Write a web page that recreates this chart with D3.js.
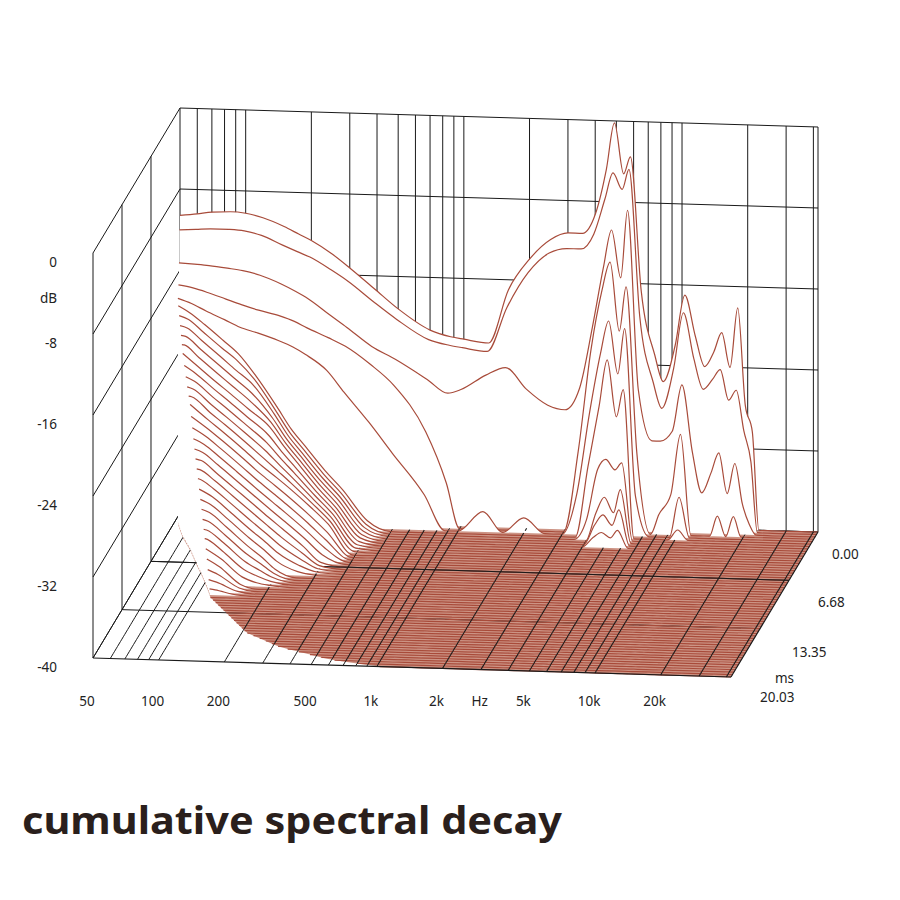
<!DOCTYPE html>
<html><head><meta charset="utf-8">
<script src="https://cdn.jsdelivr.net/npm/d3@7"></script>
<style>body{margin:0;background:#fff}</style>
</head><body>
<svg id="c" width="900" height="900"></svg>
<script>
// ---------------- data ----------------
const freqNodes = [50,60,70,85,100,120,150,175,200,250,300,390,500,700,870,1000,1300,1600,2000,2500,3000,3500,4000,4500,4900,5400,5800,6500,7500,8200,9300,10300,11500,12700,14000,15200,16600,18000,19500,21000,22500,42000];
const sliceTimes = [0,0.334,0.668,1.0,1.335,1.669,2.003,2.337,3.338,5.008,6.677,8.346,10.015,11.35,20.03];
const lv_0000 = [-10.6,-10.4,-10.2,-10.1,-10.2,-10.6,-11.4,-12.1,-12.7,-14,-15.3,-17.3,-19.2,-21.2,-21.8,-22,-22.3,-17,-13.9,-11.9,-11.2,-11.2,-9.3,-4.8,-0.2,-5.2,-3.5,-16.7,-23,-25.6,-22,-17,-21,-24,-22.5,-20.6,-24,-18.1,-27.7,-30.3,-40,-40];
const lv_0334 = [-11.8,-11.7,-11.6,-11.6,-11.7,-12.1,-13,-13.6,-14.1,-15.3,-16.4,-18.3,-20,-21.9,-22.4,-22.6,-22.9,-18.5,-15,-13,-12.5,-12.5,-11,-7.5,-4.9,-6.5,-4.5,-19,-25.5,-28,-24,-18.5,-23,-26,-25,-24,-27,-26,-30,-33,-40,-40];
const lv_0668 = [-14.8,-14.9,-15,-15.2,-15.4,-15.8,-16.6,-17.3,-18,-19.5,-20.7,-22.5,-23.7,-25.6,-26.9,-26.5,-25,-24.2,-26.3,-27.8,-28.2,-26,-20,-14,-10.3,-15,-8.3,-26,-31,-31,-30,-25.4,-32,-36,-34,-32,-36,-33,-37,-39,-40,-40];
const lv_1000 = [-16.7,-17,-17.4,-18,-18.5,-19,-19.5,-20,-20.6,-21.5,-22.3,-24,-26,-30.5,-35.5,-40,-40,-40,-40,-40,-40,-32,-22,-16,-13.2,-20,-15.6,-32,-40,-38,-36,-30,-40,-40,-40,-38,-40,-38,-40,-40,-40,-40];
const lv_1335 = [-17.7,-18.3,-19,-19.8,-20.5,-21,-21.7,-22.3,-23,-24.5,-26.6,-29.5,-32.5,-36.5,-40,-40,-38,-40,-38.5,-40,-40,-36,-28,-22,-18.8,-24,-19.5,-36,-40,-40,-40,-36,-40,-40,-40,-40,-40,-40,-40,-40,-40,-40];
const lv_1669 = [-18,-19,-20.1,-21.6,-22.9,-25,-28,-30.2,-31.7,-34.2,-36,-39,-40,-40,-40,-40,-40,-40,-40,-40,-40,-40,-33,-27,-22.4,-28,-25.3,-40,-40,-40,-40,-39,-40,-40,-40,-40,-40,-40,-40,-40,-40,-40];
const lv_2003 = [-18.75,-19.4,-20.6,-22.1,-23.3,-25.1,-28.1,-30.3,-31.8,-34.3,-36.1,-39.1,-40,-40,-40,-40,-40,-40,-40,-40,-40,-40,-38,-33,-32,-33,-32.3,-40,-40,-40,-40,-40,-40,-40,-40,-40,-40,-40,-40,-40,-40,-40];
const lv_2337 = [-19.5,-20,-21.2,-22.7,-24,-25.4,-28.2,-30.4,-31.9,-34.4,-36.2,-39.2,-40,-40,-40,-40,-40,-40,-40,-40,-40,-40,-40,-37,-35.5,-37,-34.7,-40,-40,-40,-40,-40,-40,-40,-40,-40,-40,-40,-40,-40,-40,-40];
const lv_3338 = [-21.8,-21.8,-23,-24.5,-25.7,-27.1,-28.8,-30.7,-32.2,-34.7,-36.5,-39.5,-40,-40,-40,-40,-40,-40,-40,-40,-40,-40,-40,-40,-40,-40,-40,-40,-40,-40,-40,-40,-40,-40,-40,-40,-40,-40,-40,-40,-40,-40];
const lv_5008 = [-25.6,-25.6,-25.6,-27.1,-28.3,-29.7,-31.5,-32.6,-33.6,-35.4,-37,-40,-40,-40,-40,-40,-40,-40,-40,-40,-40,-40,-40,-40,-40,-40,-40,-40,-40,-40,-40,-40,-40,-40,-40,-40,-40,-40,-40,-40,-40,-40];
const lv_6677 = [-29.4,-29.4,-29.4,-29.9,-31.1,-32.5,-34.2,-35.4,-36.4,-38.1,-39.6,-40,-40,-40,-40,-40,-40,-40,-40,-40,-40,-40,-40,-40,-40,-40,-40,-40,-40,-40,-40,-40,-40,-40,-40,-40,-40,-40,-40,-40,-40,-40];
const lv_8346 = [-33.2,-33.2,-33.2,-33.2,-33.8,-35.2,-37,-38.1,-39.2,-40,-40,-40,-40,-40,-40,-40,-40,-40,-40,-40,-40,-40,-40,-40,-40,-40,-40,-40,-40,-40,-40,-40,-40,-40,-40,-40,-40,-40,-40,-40,-40,-40];
const lv_10015 = [-36.9,-36.9,-36.9,-36.9,-36.9,-37.9,-39.6,-40,-40,-40,-40,-40,-40,-40,-40,-40,-40,-40,-40,-40,-40,-40,-40,-40,-40,-40,-40,-40,-40,-40,-40,-40,-40,-40,-40,-40,-40,-40,-40,-40,-40,-40];
const lv_11350 = freqNodes.map(() => -40);
const lv_20030 = freqNodes.map(() => -40);
const levelRows = [lv_0000,lv_0334,lv_0668,lv_1000,lv_1335,lv_1669,lv_2003,lv_2337,lv_3338,lv_5008,lv_6677,lv_8346,lv_10015,lv_11350,lv_20030];
const fStartTimes = [0,1.335,1.669,3.338,5.008,6.677,8.346,10.015,11.35,13.35,16.0,17.8,19.3,20.03];
const fStartHz    = [50,52,53,60,70,80,92,105,116,150,211,325,592,1030];
const sliceCount = 61, tMax = 20.03;
const gridFreqs = [50,60,70,80,90,100,200,300,400,500,600,700,800,900,1000,2000,3000,4000,5000,6000,7000,8000,9000,10000,20000,30000,40000];
const dbTicks = [0,-8,-16,-24,-32,-40];
const freqLabels = [["50",50],["100",100],["200",200],["500",500],["1k",1000],["2k",2000],["Hz",3150],["5k",5000],["10k",10000],["20k",20000]];
const timeLabels = [["0.00",0,14,27],["6.68",6.68,29,27],["13.35",13.35,32,28],["20.03",20.03,29,25]];

// ---------------- projection ----------------
const fx = d3.scaleLog().domain([50,42000]).range([0,638]);
const tw = d3.scaleLinear().domain([0,tMax]).range([0,1]);
const dby = d3.scaleLinear().domain([-40,0]).range([0,405]);
function P(f,t,v){const u=fx(f),w=tw(t);return [180+u-87*w, 513+u*19/638+145*w-dby(v)];}

const svg = d3.select("#c");
const g = svg.append("g");
const topLayer = svg.append("g");
const line = d3.line();
const gridStroke = "#1a1a1a";
function seg(a,b,w,par){(par||g).append("path").attr("d",line([a,b])).attr("stroke",gridStroke).attr("stroke-width",w||1).attr("fill","none");}

gridFreqs.concat([42000]).forEach(f=>seg(P(f,0,-40),P(f,0,0)));
dbTicks.forEach(v=>seg(P(50,0,v),P(42000,0,v)));
dbTicks.forEach(v=>seg(P(50,0,v),P(50,tMax,v)));
[6.68,13.35,tMax].forEach(t=>seg(P(50,t,-40),P(50,t,0)));

function levelsAt(t){
  let i=d3.bisectRight(sliceTimes,t)-1; i=Math.max(0,Math.min(i,sliceTimes.length-2));
  const a=(t-sliceTimes[i])/(sliceTimes[i+1]-sliceTimes[i]);
  return freqNodes.map((f,j)=>levelRows[i][j]*(1-a)+levelRows[i+1][j]*a);
}
function fStartAt(t){
  let i=d3.bisectRight(fStartTimes,t)-1; i=Math.max(0,Math.min(i,fStartTimes.length-2));
  const a=(t-fStartTimes[i])/(fStartTimes[i+1]-fStartTimes[i]);
  return Math.exp(Math.log(fStartHz[i])*(1-a)+Math.log(fStartHz[i+1])*a);
}
function levelAtF(lv,f){
  const j=Math.min(freqNodes.length-1,Math.max(1,d3.bisectRight(freqNodes,f)));
  const f0=freqNodes[j-1],f1=freqNodes[j],a=Math.log(f/f0)/Math.log(f1/f0);
  return lv[j-1]*(1-a)+lv[j]*a;
}
const times = d3.range(sliceCount).map(k=>k*tMax/(sliceCount-1));

const under=[P(42000,0,-40)];
times.forEach(t=>under.push(P(fStartAt(t),t,-40)));
under.push(P(42000,tMax,-40));
g.append("path").attr("d",line(under)+"Z").attr("fill","#cc9384").attr("stroke","none");

const curve = d3.line().curve(d3.curveMonotoneX);
const sliceColor = "#a84b3a";
let prevT = 0;
times.forEach((t,k)=>{
  if(k===0) seg(P(50,0,-40),P(42000,0,-40));
  const lv=levelsAt(t), fm=fStartAt(t);
  if(k>0){
    gridFreqs.forEach(f=>{
      const onFloor = f>=fm && levelAtF(lv,f/1.06)<=-39.8 && levelAtF(lv,f*1.06)<=-39.8;
      if(onFloor) seg(P(f,prevT,-40),P(f,t,-40),1.1,topLayer); else seg(P(f,prevT,-40),P(f,t,-40));
    });
    [6.68,13.35].forEach(tl=>{ if(tl>prevT+1e-6 && tl<=t+0.01) seg(P(50,tl,-40),P(42000,tl,-40)); });
  }
  const j=freqNodes.findIndex(f=>f>fm*1.0005);
  const pts=[];
  if(j>0) pts.push(P(fm,t,levelAtF(lv,fm)));
  for(let m=Math.max(j,0);m<freqNodes.length;m++) pts.push(P(freqNodes[m],t,Math.max(-40,lv[m])));
  const dCurve=curve(pts);
  const fl=P(42000,t,-40), fl0=P(fm,t,-40);
  g.append("path").attr("d",dCurve+"L"+fl[0]+","+fl[1]+"L"+fl0[0]+","+fl0[1]+"Z").attr("fill","#fff").attr("stroke","none");
  g.append("path").attr("d",dCurve).attr("fill","none").attr("stroke",sliceColor).attr("stroke-width",1.2);
  prevT=t;
});
seg(P(50,tMax,-40),P(42000,tMax,-40),1.2,topLayer);
seg(P(42000,0,-40),P(42000,tMax,-40),1.2,topLayer);

const lab = svg.append("g").attr("font-family","'Noto Sans', sans-serif").attr("font-size",13.5).attr("fill","#222");
dbTicks.forEach(v=>{const p=P(50,tMax,v);lab.append("text").attr("x",57).attr("y",p[1]+14).attr("text-anchor","end").text(v);});
lab.append("text").attr("x",57).attr("y",P(50,tMax,-4)[1]+9).attr("text-anchor","end").text("dB");
freqLabels.forEach(([s,f])=>{const p=P(f,tMax,-40);lab.append("text").attr("x",p[0]-6).attr("y",706).attr("text-anchor","middle").text(s);});
timeLabels.forEach(([s,t,dx,dy])=>{const p=P(42000,t,-40);lab.append("text").attr("x",p[0]+dx).attr("y",p[1]+dy).text(s);});
lab.append("text").attr("x",775).attr("y",683).text("ms");

svg.append("text").attr("x",22).attr("y",834).attr("font-family","'Noto Sans', sans-serif").attr("font-weight",700)
  .attr("font-size",38).attr("fill","#2a1f1c").attr("textLength",540).attr("lengthAdjust","spacingAndGlyphs").text("cumulative spectral decay");
</script>
</body></html>
